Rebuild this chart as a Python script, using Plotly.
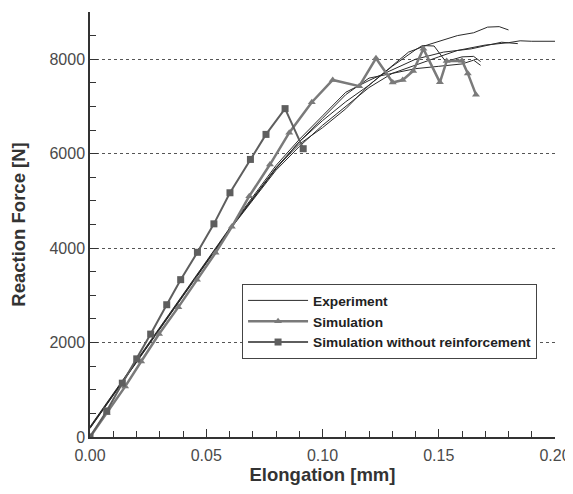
import plotly.graph_objects as go

# Courbes expérimentales (5 essais)
exp1_x = [0.0, 0.01, 0.02, 0.04, 0.06, 0.08, 0.09, 0.10, 0.11, 0.12, 0.13, 0.137, 0.145, 0.158, 0.165, 0.171, 0.176, 0.18]
exp1_y = [200, 900, 1600, 3000, 4400, 5700, 6250, 6700, 7100, 7450, 7870, 8150, 8300, 8500, 8560, 8680, 8690, 8620]
exp2_x = [0.0, 0.01, 0.02, 0.04, 0.06, 0.08, 0.09, 0.10, 0.11, 0.12, 0.13, 0.14, 0.15, 0.158, 0.17, 0.18, 0.185, 0.19, 0.20]
exp2_y = [180, 880, 1580, 2980, 4380, 5650, 6150, 6600, 7000, 7400, 7700, 7880, 8050, 8185, 8300, 8350, 8390, 8380, 8380]
exp3_x = [0.0, 0.01, 0.02, 0.04, 0.06, 0.08, 0.09, 0.10, 0.11, 0.12, 0.13, 0.14, 0.152, 0.164, 0.177, 0.184]
exp3_y = [220, 920, 1620, 3020, 4420, 5750, 6300, 6800, 7300, 7550, 7780, 8000, 8150, 8220, 8360, 8330]
exp4_x = [0.0, 0.01, 0.02, 0.04, 0.06, 0.08, 0.09, 0.10, 0.11, 0.12, 0.13, 0.14, 0.143, 0.148, 0.153, 0.16, 0.165, 0.168]
exp4_y = [200, 900, 1600, 3000, 4400, 5700, 6200, 6550, 6950, 7450, 7850, 8200, 8290, 8280, 7950, 8050, 8060, 7950]
exp5_x = [0.0, 0.01, 0.02, 0.04, 0.06, 0.08, 0.09, 0.10, 0.11, 0.12, 0.13, 0.14, 0.15, 0.16, 0.165, 0.168]
exp5_y = [190, 890, 1590, 2990, 4390, 5680, 6250, 6750, 7250, 7600, 7700, 7800, 7850, 7900, 7980, 7870]

# Simulation (triangles)
sim_x = [0.0, 0.0072, 0.0151, 0.0220, 0.0297, 0.0380, 0.0460, 0.0540, 0.0610, 0.0685, 0.0774, 0.0857,
         0.0954, 0.1044, 0.1158, 0.1230, 0.1302, 0.1345, 0.1390, 0.1434, 0.1505, 0.1534, 0.1600, 0.1625, 0.1660]
sim_y = [0, 503, 1067, 1598, 2180, 2750, 3330, 3900, 4450, 5100, 5770, 6445,
         7090, 7560, 7430, 8020, 7506, 7560, 7750, 8220, 7510, 7960, 7970, 7700, 7250]

# Simulation sans renfort (carrés)
sans_x = [0.0, 0.0072, 0.0139, 0.0201, 0.0261, 0.0330, 0.0390, 0.0462, 0.0533, 0.0602, 0.0690, 0.0757, 0.0839, 0.0917]
sans_y = [0, 552, 1140, 1655, 2179, 2801, 3332, 3911, 4514, 5172, 5878, 6408, 6954, 6105]

fig = go.Figure()

experiences = [(exp1_x, exp1_y), (exp2_x, exp2_y), (exp3_x, exp3_y), (exp4_x, exp4_y), (exp5_x, exp5_y)]
for i, (ex, ey) in enumerate(experiences):
    fig.add_trace(go.Scatter(
        x=ex, y=ey, mode='lines', name='Experiment',
        line=dict(color='#2a2a2a', width=1),
        showlegend=(i == 0), legendgroup='exp'
    ))

fig.add_trace(go.Scatter(
    x=sim_x, y=sim_y, mode='lines+markers', name='Simulation',
    line=dict(color='#7a7a7a', width=2.5),
    marker=dict(symbol='triangle-up', size=7, color='#7a7a7a')
))
fig.add_trace(go.Scatter(
    x=sans_x, y=sans_y, mode='lines+markers', name='Simulation without reinforcement',
    line=dict(color='#5e5e5e', width=2),
    marker=dict(symbol='square', size=7, color='#5e5e5e')
))

police = 'Liberation Sans, Arial, sans-serif'

# la page ajoute 8 px de marge autour de la figure
fig.update_layout(
    width=565, height=478,
    margin=dict(l=82, r=18, t=4, b=49),
    paper_bgcolor='white', plot_bgcolor='white',
    font=dict(family=police, color='#4a4a4a', size=16),
    legend=dict(
        x=0.327, y=0.36, xanchor='left', yanchor='top',
        bgcolor='white', bordercolor='#444444', borderwidth=1,
        font=dict(family=police, size=13.7, color='#222222', weight='bold'),
        tracegroupgap=0, itemwidth=60
    ),
    xaxis=dict(
        range=[0, 0.2], tickvals=[0, 0.05, 0.10, 0.15, 0.20], tickformat='.2f',
        ticks='inside', ticklen=8, tickcolor='#333333', showline=True, linecolor='#333333', linewidth=1.5,
        showgrid=False, zeroline=False, automargin=False, ticklabelstandoff=3,
        minor=dict(dtick=0.01, ticks='inside', ticklen=6, tickcolor='#333333', showgrid=False),
        title=dict(text='Elongation [mm]', font=dict(size=18.5, color='#333333', weight='bold'), standoff=4)
    ),
    yaxis=dict(
        range=[0, 9000], tickvals=[0, 2000, 4000, 6000, 8000],
        ticks='inside', ticklen=8, tickcolor='#333333', showline=True, linecolor='#333333', linewidth=1.5,
        showgrid=True, gridcolor='#555555', griddash='dot', gridwidth=1, zeroline=False, automargin=False,
        minor=dict(dtick=500, ticks='inside', ticklen=6, tickcolor='#333333', showgrid=False),
        title=dict(text='Reaction Force [N]', font=dict(size=18.5, color='#333333', weight='bold'), standoff=22)
    )
)

fig.write_html("out.html")
